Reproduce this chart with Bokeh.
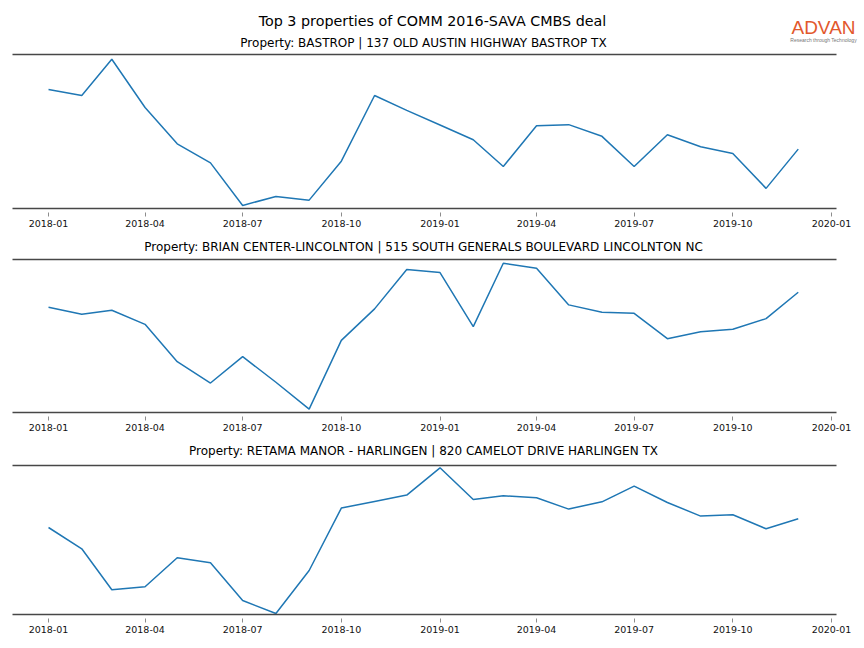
import pandas as pd
from bokeh.plotting import figure
from bokeh.layouts import column
from bokeh.models import Range1d, LinearAxis, FixedTicker, DatetimeTickFormatter
from bokeh.core.properties import value
from bokeh.embed import file_html
from bokeh.resources import INLINE

# ---------------- data ----------------
suptitle = "Top 3 properties of COMM 2016-SAVA CMBS deal"
titles = [
    "Property: BASTROP | 137 OLD AUSTIN HIGHWAY BASTROP TX",
    "Property: BRIAN CENTER-LINCOLNTON | 515 SOUTH GENERALS BOULEVARD LINCOLNTON NC",
    "Property: RETAMA MANOR - HARLINGEN | 820 CAMELOT DRIVE HARLINGEN TX",
]
months = ["2018-01", "2018-02", "2018-03", "2018-04", "2018-05", "2018-06",
          "2018-07", "2018-08", "2018-09", "2018-10", "2018-11", "2018-12",
          "2019-01", "2019-02", "2019-03", "2019-04", "2019-05", "2019-06",
          "2019-07", "2019-08", "2019-09", "2019-10", "2019-11", "2019-12"]
bastrop = [1213, 1153, 1513, 1033, 673, 483, 60, 150, 113, 500, 1153, 1005,
           860, 713, 447, 853, 863, 747, 447, 763, 643, 577, 230, 620]
lincolnton = [1083, 1013, 1053, 913, 540, 327, 590, 335, 67, 753, 1067, 1460,
              1430, 890, 1523, 1473, 1107, 1033, 1023, 770, 840, 863, 970, 1233]
harlingen = [933, 720, 310, 340, 630, 580, 203, 73, 503, 1127, 1193, 1257,
             1530, 1213, 1250, 1230, 1117, 1190, 1347, 1183, 1047, 1060, 920, 1020]
tick_labels = ["2018-01", "2018-04", "2018-07", "2018-10", "2019-01",
               "2019-04", "2019-07", "2019-10", "2020-01"]
series = [bastrop, lincolnton, harlingen]
y_limits = [(30, 1560), (33, 1560), (63, 1553)]
x_limits = ("2017-11-28 10:00", "2020-01-05 16:00")

# ---------------- styling ----------------
FONT = "DejaVu Sans"
W = 864
BL, BR = 12, 28           # frame borders (left / right)
LINE_COLOR = "#1f77b4"
SPINE = "#474747"

dates = pd.to_datetime(months)
tick_ms = [pd.Timestamp(t).value / 1e6 for t in tick_labels]
x0 = pd.Timestamp(x_limits[0])
x1 = pd.Timestamp(x_limits[1])


def strip(h, items, bl=BL, br=BR):
    # text strip whose x coordinates are page pixels
    s = figure(width=W, height=h, x_range=Range1d(bl, W - br), y_range=Range1d(h, 0),
               min_border_left=bl, min_border_right=br, min_border_top=0,
               min_border_bottom=0, toolbar_location=None, output_backend="svg",
               x_axis_location=None, y_axis_location=None)
    s.outline_line_color = None
    s.grid.visible = False
    for (x, y, txt, size, color, font, style) in items:
        s.text(x=[x], y=[y], text=[txt], text_align="center", text_baseline="middle",
               text_font=value(font), text_font_size=size, text_color=color,
               text_font_style=style)
    return s


def panel(vals, ylim, frame_h):
    h = 1 + frame_h + 28
    p = figure(width=W, height=h, x_axis_type="datetime",
               x_range=Range1d(x0, x1), y_range=Range1d(*ylim),
               toolbar_location=None, output_backend="svg",
               y_axis_location=None,
               min_border_left=BL, min_border_right=BR,
               min_border_top=1, min_border_bottom=28)
    p.outline_line_color = None
    p.grid.visible = False
    p.line(dates, vals, line_color=LINE_COLOR, line_width=1.5)
    xa = p.xaxis[0]
    xa.ticker = FixedTicker(ticks=tick_ms)
    fmt = "%Y-%m"
    xa.formatter = DatetimeTickFormatter(years=fmt, months=fmt, days=fmt, hours=fmt,
                                         minutes=fmt, seconds=fmt, milliseconds=fmt,
                                         microseconds=fmt, hourmin=fmt, minsec=fmt)
    xa.axis_line_color = SPINE
    xa.axis_line_width = 1.6
    xa.major_tick_in = -4
    xa.major_tick_out = 8
    xa.major_tick_line_color = "#8c8c8c"
    xa.major_tick_line_width = 1
    xa.minor_tick_line_color = None
    xa.major_label_standoff = 3
    xa.major_label_text_font = FONT
    xa.major_label_text_font_size = "9.5px"
    xa.major_label_text_color = "#111111"
    top = LinearAxis(ticker=FixedTicker(ticks=[]), axis_line_color=SPINE,
                     axis_line_width=1.6, major_tick_line_color=None,
                     minor_tick_line_color=None, major_label_text_font_size="0px",
                     major_tick_in=0, major_tick_out=0, major_label_standoff=0)
    p.add_layout(top, "above")
    return p


hdr = strip(53, [
    (432, 20, suptitle, "14.3px", "black", FONT, "normal"),
    (423, 42, titles[0], "12px", "black", FONT, "normal"),
    (823, 27, "ADVAN", "19px", "#e2582c", "Liberation Sans", "normal"),
    (823, 39, "Research through Technology", "5px", "#777777", "Liberation Sans", "normal"),
], bl=0, br=0)
p1 = panel(series[0], y_limits[0], 154)
s2 = strip(22, [(423, 10, titles[1], "12px", "black", FONT, "normal")])
p2 = panel(series[1], y_limits[1], 153)
s3 = strip(24, [(423, 10, titles[2], "12px", "black", FONT, "normal")])
p3 = panel(series[2], y_limits[2], 149)

body = column(p1, s2, p2, s3, p3, spacing=0)
layout = column(hdr, body, spacing=0)

open("out.html", "w").write(file_html(layout, INLINE, title="Top 3 properties"))
